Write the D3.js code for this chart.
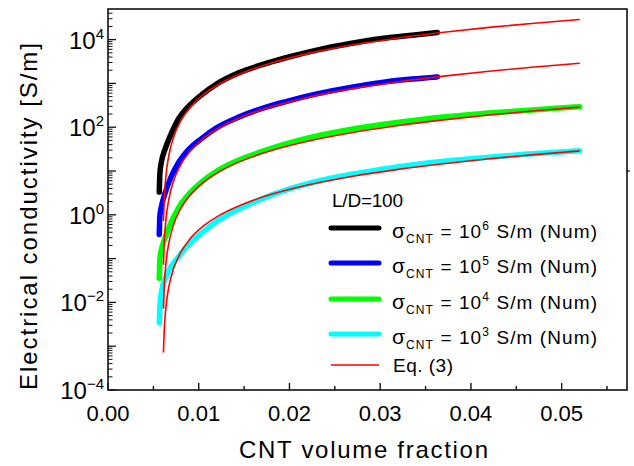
<!DOCTYPE html>
<html>
<head>
<meta charset="utf-8">
<script src="https://cdn.jsdelivr.net/npm/d3@7"></script>
<style>
  body { margin: 0; background: #fff; }
  svg { display: block; }
  text { font-family: "Liberation Sans", Arial, sans-serif; fill: #000; }
</style>
</head>
<body>
<div id="chart"></div>
<script>
// volume fractions of the numerical results
var phiNumShort = [0.00565, 0.00572, 0.0059, 0.0063, 0.0069, 0.0078, 0.0088, 0.0103, 0.012, 0.0144, 0.017, 0.0195, 0.023, 0.0267, 0.0304, 0.0335, 0.0363];
var phiNumLong = [0.00565, 0.00572, 0.0059, 0.0063, 0.0069, 0.0078, 0.0088, 0.0103, 0.012, 0.0144, 0.017, 0.0195, 0.023, 0.0267, 0.0304, 0.035, 0.040, 0.046, 0.052];

var sigNum6 = [3.3, 8.9, 16.6, 32, 66, 158, 288, 550, 980, 1740, 2690, 3800, 5750, 8130, 10700, 12600, 14500];
var sigNum5 = [0.355, 0.95, 1.58, 3.16, 6.9, 15.8, 29.5, 55, 98, 170, 269, 380, 575, 813, 1070, 1260, 1410];
var sigNum4 = [0.0355, 0.1, 0.166, 0.30, 0.63, 1.48, 2.8, 5.6, 10, 17.8, 28, 41, 63, 89, 117, 155, 195, 240, 295];
var sigNum3 = [0.00347, 0.008, 0.0178, 0.035, 0.063, 0.112, 0.2, 0.38, 0.71, 1.35, 2.34, 3.6, 5.75, 8.3, 11.2, 15.1, 19, 24, 29];

// Eq. (3)
var phiEq = [0.00611, 0.0062, 0.0064, 0.0067, 0.0072, 0.008, 0.009, 0.0105, 0.0125, 0.015, 0.018, 0.022, 0.027, 0.032, 0.037, 0.042, 0.047, 0.052];
var sigEq6 = [0.72, 2.33, 8.3, 22.3, 57, 137, 275, 551, 1030, 1795, 2930, 4790, 7600, 10900, 14700, 19000, 23700, 28800];
var sigEq5 = [0.072, 0.233, 0.83, 2.23, 5.7, 13.7, 27.5, 55.1, 103, 179.5, 293, 479, 760, 1090, 1470, 1900, 2370, 2880];
var sigEq4 = [0.0072, 0.0233, 0.083, 0.223, 0.57, 1.37, 2.75, 5.51, 10.3, 17.95, 29.3, 47.9, 76, 109, 147, 190, 237, 288];
var sigEq3 = [0.00072, 0.00233, 0.0083, 0.0223, 0.057, 0.137, 0.275, 0.551, 1.03, 1.795, 2.93, 4.79, 7.6, 10.9, 14.7, 19, 23.7, 28.8];

var xTicks = [0, 0.01, 0.02, 0.03, 0.04, 0.05];
var xMinorTicks = [0.005, 0.015, 0.025, 0.035, 0.045, 0.055];
var yExps = [-4, -3, -2, -1, 0, 1, 2, 3, 4];
var yLabelExps = [-4, -2, 0, 2, 4];
var legendExps = ["6", "5", "4", "3"];
var legendColors = ["#000000", "#0000ff", "#00ff00", "#00ffff"];

var width = 634, height = 466;
var margin = {left: 108, top: 9, right: 7, bottom: 76};

var svg = d3.select("#chart").append("svg")
  .attr("width", width)
  .attr("height", height);

var x = d3.scaleLinear().domain([0, 0.0572]).range([margin.left, width - margin.right]);
var y = d3.scaleLog().domain([1e-4, 5e4]).range([height - margin.bottom, margin.top]);

var line = d3.line()
  .x(function(d) { return x(d[0]); })
  .y(function(d) { return y(d[1]); })
  .curve(d3.curveMonotoneX);

function pairs(xs, ys) {
  return xs.map(function(v, i) { return [v, ys[i]]; });
}

var numSeries = [
  {pts: pairs(phiNumShort, sigNum6), color: legendColors[0]},
  {pts: pairs(phiNumShort, sigNum5), color: legendColors[1]},
  {pts: pairs(phiNumLong, sigNum4), color: legendColors[2]},
  {pts: pairs(phiNumLong, sigNum3), color: legendColors[3]}
];
var eqSeries = [sigEq6, sigEq5, sigEq4, sigEq3].map(function(s) { return pairs(phiEq, s); });

var plot = svg.append("g");
plot.selectAll("path.num").data(numSeries).enter().append("path")
  .attr("class", "num")
  .attr("d", function(d) { return line(d.pts); })
  .attr("fill", "none")
  .attr("stroke", function(d) { return d.color; })
  .attr("stroke-width", 5.5)
  .attr("stroke-linecap", "round")
  .attr("stroke-linejoin", "round");

plot.selectAll("path.eq").data(eqSeries).enter().append("path")
  .attr("class", "eq")
  .attr("d", line)
  .attr("fill", "none")
  .attr("stroke", "#ff0000")
  .attr("stroke-width", 1.6);

// frame
svg.append("rect")
  .attr("x", x(0)).attr("y", y(5e4))
  .attr("width", x(0.0572) - x(0))
  .attr("height", y(1e-4) - y(5e4))
  .attr("fill", "none")
  .attr("stroke", "#111")
  .attr("stroke-width", 1.6);

// x ticks (inside)
var yb = y(1e-4);
svg.selectAll("line.xt").data(xTicks).enter().append("line")
  .attr("x1", function(d) { return x(d); }).attr("x2", function(d) { return x(d); })
  .attr("y1", yb).attr("y2", yb - 7)
  .attr("stroke", "#111").attr("stroke-width", 1.4);
svg.selectAll("line.xm").data(xMinorTicks).enter().append("line")
  .attr("x1", function(d) { return x(d); }).attr("x2", function(d) { return x(d); })
  .attr("y1", yb).attr("y2", yb - 4)
  .attr("stroke", "#111").attr("stroke-width", 1.4);
svg.selectAll("text.xl").data(xTicks).enter().append("text")
  .attr("x", function(d) { return x(d); })
  .attr("y", 421)
  .attr("text-anchor", "middle")
  .style("font-size", "22px")
  .text(function(d) { return d3.format(".2f")(d); });

// y ticks (inside, log)
var xl = x(0);
var yMinor = [];
yExps.forEach(function(e) {
  for (var k = 2; k <= 9; k++) {
    var v = k * Math.pow(10, e);
    if (v < 5e4) yMinor.push(v);
  }
});
svg.selectAll("line.yt").data(yExps).enter().append("line")
  .attr("x1", xl).attr("x2", xl + 8)
  .attr("y1", function(d) { return y(Math.pow(10, d)); })
  .attr("y2", function(d) { return y(Math.pow(10, d)); })
  .attr("stroke", "#111").attr("stroke-width", 1.3);
svg.selectAll("line.ym").data(yMinor).enter().append("line")
  .attr("x1", xl).attr("x2", xl + 4.5)
  .attr("y1", function(d) { return y(d); })
  .attr("y2", function(d) { return y(d); })
  .attr("stroke", "#111").attr("stroke-width", 1);

// stray tick on the right axis
svg.append("line")
  .attr("x1", x(0.0572) - 1).attr("x2", x(0.0572) + 3)
  .attr("y1", y(10)).attr("y2", y(10))
  .attr("stroke", "#111").attr("stroke-width", 1.2);

var yl = svg.selectAll("text.yl").data(yLabelExps).enter().append("text")
  .attr("x", 104)
  .attr("y", function(d) { return y(Math.pow(10, d)) + 9; })
  .attr("text-anchor", "end")
  .style("font-size", "24px");
yl.append("tspan").text("10");
yl.append("tspan")
  .attr("dy", -10)
  .style("font-size", "15px")
  .text(function(d) { return d < 0 ? "\u2212" + Math.abs(d) : String(d); });

// axis titles
svg.append("text")
  .attr("x", 363.5).attr("y", 458)
  .attr("text-anchor", "middle")
  .attr("textLength", 249).attr("lengthAdjust", "spacing")
  .style("font-size", "24px")
  .text("CNT volume fraction");

svg.append("text")
  .attr("transform", "translate(37,216.5) rotate(-90)")
  .attr("text-anchor", "middle")
  .attr("textLength", 347).attr("lengthAdjust", "spacing")
  .style("font-size", "24px")
  .text("Electrical conductivity [S/m]");

// legend
var lg = svg.append("g");
lg.append("text")
  .attr("x", 332).attr("y", 207)
  .attr("textLength", 71).attr("lengthAdjust", "spacing")
  .style("font-size", "19px")
  .text("L/D=100");

var rowY = [228, 263, 299, 334];
legendExps.forEach(function(e, i) {
  lg.append("line")
    .attr("x1", 331).attr("x2", 379)
    .attr("y1", rowY[i]).attr("y2", rowY[i])
    .attr("stroke", legendColors[i])
    .attr("stroke-width", 5)
    .attr("stroke-linecap", "round");
  var t = lg.append("text")
    .attr("x", 392).attr("y", rowY[i] + 10)
    .attr("textLength", 205).attr("lengthAdjust", "spacing")
    .style("font-size", "19px");
  t.append("tspan").style("font-size", "21px").text("\u03c3");
  t.append("tspan").attr("dy", 5).style("font-size", "12px").text("CNT");
  t.append("tspan").attr("dy", -5).text(" = 10");
  t.append("tspan").attr("dy", -8).style("font-size", "12px").text(e);
  t.append("tspan").attr("dy", 8).text(" S/m (Num)");
});

lg.append("line")
  .attr("x1", 331).attr("x2", 379)
  .attr("y1", 365).attr("y2", 365)
  .attr("stroke", "#ff0000").attr("stroke-width", 1.6);
lg.append("text")
  .attr("x", 393).attr("y", 372)
  .attr("textLength", 60).attr("lengthAdjust", "spacing")
  .style("font-size", "19px")
  .text("Eq. (3)");
</script>
</body>
</html>
